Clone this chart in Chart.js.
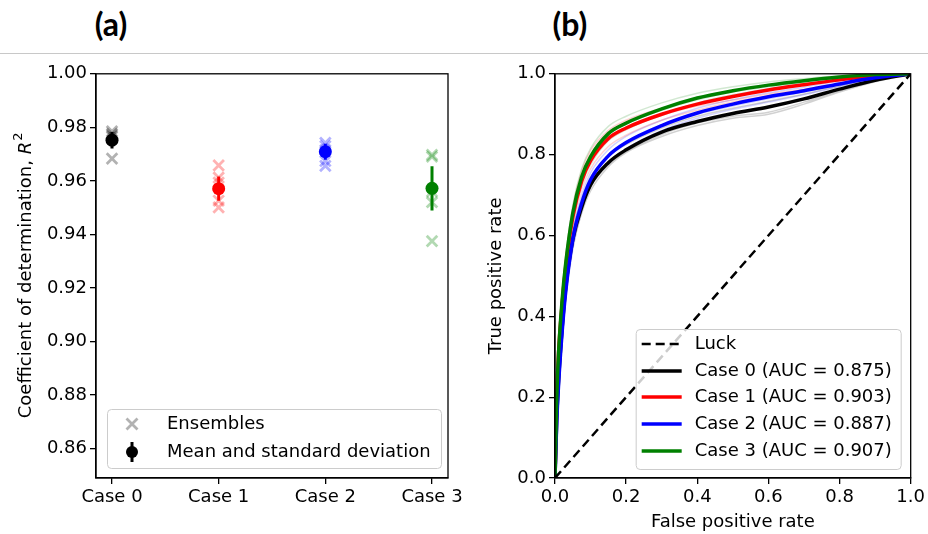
<!DOCTYPE html>
<html>
<head>
<meta charset="utf-8">
<script src="https://cdn.jsdelivr.net/npm/chart.js@4.4.1/dist/chart.umd.min.js"></script>
<style>
  body { margin: 0; background: #fff; width: 928px; height: 534px; position: relative; overflow: hidden; }
  .panel-title { position: absolute; top: 4px; width: 80px; text-align: center; font-family: Lato, sans-serif; font-weight: 700; font-size: 32px; line-height: 40px; color: #000; }
  #rule { position: absolute; left: 0; top: 53px; width: 928px; height: 1px; background: #c8c8c8; }
  #wrapA { position: absolute; left: 0; top: 60px; }
  #wrapB { position: absolute; left: 460px; top: 60px; }
</style>
</head>
<body>
<div class="panel-title" style="left:71px">(a)</div>
<div class="panel-title" style="left:530px">(b)</div>
<div id="rule"></div>
<div id="wrapA"><canvas id="chartA" width="480" height="474"></canvas></div>
<div id="wrapB"><canvas id="chartB" width="468" height="474"></canvas></div>
<script>
// panel (a): R^2 of each ensemble member, and mean / std per case
const caseLabels = ['Case 0', 'Case 1', 'Case 2', 'Case 3'];
const caseColors = ['#000000', '#ff0000', '#0000ff', '#008000'];
const caseFaded = ['rgba(0,0,0,0.3)', 'rgba(255,0,0,0.3)', 'rgba(0,0,255,0.3)', 'rgba(0,128,0,0.3)'];
const caseThin = ['rgba(0,0,0,0.18)', 'rgba(255,0,0,0.18)', 'rgba(0,0,255,0.18)', 'rgba(0,128,0,0.18)'];

const r2Ensembles = [
  [0.9785, 0.9776, 0.9770, 0.9765, 0.9683],
  [0.9658, 0.9612, 0.9594, 0.9526, 0.9501],
  [0.9742, 0.9730, 0.9715, 0.9674, 0.9656],
  [0.9697, 0.9690, 0.9560, 0.9520, 0.9375]
];
const r2Mean = [0.9752, 0.9571, 0.9709, 0.9572];
const r2Std = [0.0031, 0.0045, 0.0030, 0.0083];
const r2Ticks = [0.86, 0.88, 0.90, 0.92, 0.94, 0.96, 0.98, 1.00];

// panel (b): ROC curves
const fpr = [0, 0.005, 0.01, 0.02, 0.03, 0.05, 0.075, 0.1, 0.15, 0.2, 0.3, 0.4, 0.5, 0.6, 0.7, 0.8, 0.9, 1.0];
const tprCase0 = [0, 0.15, 0.24, 0.37, 0.47, 0.59, 0.67, 0.725, 0.78, 0.812, 0.856, 0.882, 0.902, 0.918, 0.938, 0.962, 0.984, 1];
const tprCase1 = [0, 0.2, 0.31, 0.43, 0.52, 0.645, 0.735, 0.785, 0.84, 0.866, 0.9, 0.925, 0.944, 0.96, 0.973, 0.985, 0.995, 1];
const tprCase2 = [0, 0.14, 0.23, 0.36, 0.46, 0.59, 0.68, 0.738, 0.797, 0.83, 0.872, 0.903, 0.925, 0.943, 0.958, 0.975, 0.99, 1];
const tprCase3 = [0, 0.2, 0.31, 0.44, 0.53, 0.655, 0.745, 0.795, 0.852, 0.878, 0.913, 0.94, 0.958, 0.972, 0.983, 0.992, 0.998, 1];
const tprMean = [tprCase0, tprCase1, tprCase2, tprCase3];

const tprEnsCase0 = [
  [0, 0.13, 0.22, 0.35, 0.45, 0.57, 0.655, 0.71, 0.77, 0.805, 0.845, 0.872, 0.89, 0.9, 0.925, 0.955, 0.98, 1],
  [0, 0.17, 0.26, 0.39, 0.49, 0.61, 0.69, 0.745, 0.795, 0.825, 0.866, 0.895, 0.915, 0.932, 0.95, 0.97, 0.988, 1],
  [0, 0.15, 0.24, 0.36, 0.46, 0.58, 0.665, 0.72, 0.775, 0.808, 0.85, 0.878, 0.895, 0.905, 0.93, 0.958, 0.982, 1]
];
const tprEnsCase1 = [
  [0, 0.22, 0.33, 0.45, 0.55, 0.67, 0.76, 0.81, 0.86, 0.885, 0.915, 0.94, 0.958, 0.972, 0.982, 0.99, 0.997, 1],
  [0, 0.18, 0.29, 0.41, 0.5, 0.625, 0.715, 0.765, 0.82, 0.848, 0.885, 0.91, 0.93, 0.945, 0.96, 0.975, 0.99, 1],
  [0, 0.2, 0.3, 0.42, 0.51, 0.64, 0.73, 0.78, 0.835, 0.862, 0.897, 0.92, 0.935, 0.95, 0.962, 0.978, 0.992, 1]
];
const tprEnsCase2 = [
  [0, 0.12, 0.21, 0.34, 0.44, 0.565, 0.66, 0.72, 0.78, 0.815, 0.86, 0.89, 0.912, 0.93, 0.948, 0.968, 0.986, 1],
  [0, 0.16, 0.25, 0.38, 0.48, 0.61, 0.7, 0.755, 0.812, 0.845, 0.885, 0.915, 0.936, 0.953, 0.967, 0.982, 0.994, 1],
  [0, 0.14, 0.23, 0.36, 0.46, 0.585, 0.675, 0.735, 0.795, 0.828, 0.87, 0.9, 0.92, 0.938, 0.955, 0.972, 0.99, 1]
];
const tprEnsCase3 = [
  [0, 0.22, 0.33, 0.46, 0.55, 0.675, 0.765, 0.815, 0.87, 0.895, 0.928, 0.952, 0.968, 0.98, 0.988, 0.995, 0.999, 1],
  [0, 0.18, 0.29, 0.42, 0.51, 0.635, 0.725, 0.775, 0.835, 0.862, 0.9, 0.928, 0.948, 0.963, 0.976, 0.988, 0.996, 1],
  [0, 0.2, 0.31, 0.44, 0.53, 0.655, 0.745, 0.795, 0.85, 0.876, 0.91, 0.936, 0.955, 0.968, 0.98, 0.99, 0.997, 1]
];
const tprEnsembles = [tprEnsCase0, tprEnsCase1, tprEnsCase2, tprEnsCase3];
const aucValues = [0.875, 0.903, 0.887, 0.907];
const rateTicks = [0, 0.2, 0.4, 0.6, 0.8, 1.0];

Chart.defaults.font.family = '"DejaVu Sans"';
Chart.defaults.font.size = 18;
Chart.defaults.color = '#000';

const FONT = '18px "DejaVu Sans"';

function axisStyle(extra) {
  return Object.assign({
    type: 'linear',
    grid: { display: true, drawOnChartArea: false, drawTicks: true, tickLength: 6, color: '#000', lineWidth: 1.3 },
    border: { display: true, color: '#000', width: 1.3 },
  }, extra);
}

const framePlugin = {
  id: 'frame',
  afterDatasetsDraw(chart) {
    const { ctx, chartArea: a } = chart;
    ctx.save();
    ctx.strokeStyle = '#000';
    ctx.lineWidth = 1.3;
    ctx.strokeRect(a.left, a.top, a.right - a.left, a.bottom - a.top);
    ctx.restore();
  }
};

function legendBox(ctx, x, y, w, h) {
  ctx.save();
  ctx.fillStyle = 'rgba(255,255,255,0.8)';
  ctx.strokeStyle = '#cccccc';
  ctx.lineWidth = 1;
  ctx.beginPath();
  ctx.roundRect(x + 0.5, y + 0.5, w, h, 4);
  ctx.fill();
  ctx.stroke();
  ctx.restore();
}

// y title with italic R and superscript 2
const r2TitlePlugin = {
  id: 'r2Title',
  afterDraw(chart) {
    const { ctx, chartArea: a } = chart;
    const main = 'Coefficient of determination, ';
    ctx.save();
    ctx.translate(26, (a.top + a.bottom) / 2);
    ctx.rotate(-Math.PI / 2);
    ctx.fillStyle = '#000';
    ctx.textBaseline = 'middle';
    ctx.font = FONT;
    const w1 = ctx.measureText(main).width;
    ctx.font = 'italic ' + FONT;
    const w2 = ctx.measureText('R').width;
    ctx.font = '13px "DejaVu Sans"';
    const w3 = ctx.measureText('2').width;
    let x = -(w1 + w2 + w3) / 2;
    ctx.font = FONT; ctx.fillText(main, x, 0); x += w1;
    ctx.font = 'italic ' + FONT; ctx.fillText('R', x, 0); x += w2 + 1;
    ctx.font = '13px "DejaVu Sans"'; ctx.fillText('2', x, -7);
    ctx.restore();
  }
};

const legendAPlugin = {
  id: 'legendA',
  afterDraw(chart) {
    const { ctx, chartArea: a } = chart;
    const w = 334, h = 59;
    const left = a.right - 7 - w, top = a.bottom - 10 - h;
    legendBox(ctx, left, top, w, h);
    ctx.save();
    const mx = left + 25, r1 = top + 15, r2 = top + 43;
    // crosses marker
    ctx.strokeStyle = 'rgba(0,0,0,0.3)';
    ctx.lineWidth = 2.8;
    ctx.beginPath();
    ctx.moveTo(mx - 5.5, r1 - 5.5); ctx.lineTo(mx + 5.5, r1 + 5.5);
    ctx.moveTo(mx + 5.5, r1 - 5.5); ctx.lineTo(mx - 5.5, r1 + 5.5);
    ctx.stroke();
    // dot with error bar
    ctx.strokeStyle = '#000';
    ctx.lineWidth = 3;
    ctx.beginPath(); ctx.moveTo(mx, r2 - 10); ctx.lineTo(mx, r2 + 10); ctx.stroke();
    ctx.fillStyle = '#000';
    ctx.beginPath(); ctx.arc(mx, r2, 6, 0, Math.PI * 2); ctx.fill();
    ctx.font = FONT;
    ctx.textBaseline = 'middle';
    ctx.fillText('Ensembles', left + 60, r1);
    ctx.fillText('Mean and standard deviation', left + 60, r2);
    ctx.restore();
  }
};

const legendBPlugin = {
  id: 'legendB',
  afterDraw(chart) {
    const { ctx, chartArea: a } = chart;
    const w = 265, h = 140;
    const left = a.right - 10 - w, top = a.bottom - 9 - h;
    legendBox(ctx, left, top, w, h);
    const rows = [15, 42, 68, 95, 122];
    const labels = ['Luck'].concat(caseLabels.map((c, i) => c + ' (AUC = ' + aucValues[i].toFixed(3) + ')'));
    ctx.save();
    ctx.font = FONT;
    ctx.textBaseline = 'middle';
    rows.forEach((dy, i) => {
      const y = top + dy;
      ctx.beginPath();
      ctx.moveTo(left + 6, y); ctx.lineTo(left + 46, y);
      if (i === 0) { ctx.setLineDash([9, 5]); ctx.lineWidth = 2.5; ctx.strokeStyle = '#000'; }
      else { ctx.setLineDash([]); ctx.lineWidth = 3.5; ctx.strokeStyle = caseColors[i - 1]; }
      ctx.stroke();
      ctx.fillStyle = '#000';
      ctx.fillText(labels[i], left + 59, y);
    });
    ctx.restore();
  }
};

// ---- panel (a)
const dsA = [];
caseLabels.forEach((c, i) => {
  dsA.push({
    type: 'scatter', order: 1,
    data: [{ x: i, y: r2Mean[i] }],
    pointStyle: 'circle', pointRadius: 6.5, backgroundColor: caseColors[i], borderColor: caseColors[i], borderWidth: 0
  });
  dsA.push({
    type: 'line', order: 2,
    data: [{ x: i, y: r2Mean[i] - r2Std[i] }, { x: i, y: r2Mean[i] + r2Std[i] }],
    borderColor: caseColors[i], borderWidth: 3, pointRadius: 0
  });
  dsA.push({
    type: 'scatter', order: 3,
    data: r2Ensembles[i].map(v => ({ x: i, y: v })),
    pointStyle: 'crossRot', pointRadius: 7.5, borderColor: caseFaded[i], borderWidth: 2.8, backgroundColor: caseFaded[i]
  });
});

new Chart(document.getElementById('chartA'), {
  type: 'scatter',
  data: { datasets: dsA },
  options: {
    responsive: false, animation: false, devicePixelRatio: 1,
    layout: { padding: { top: 12, right: 32, left: 0, bottom: 0 } },
    plugins: { legend: { display: false }, tooltip: { enabled: false } },
    scales: {
      x: axisStyle({
        min: -0.15, max: 3.15,
        afterBuildTicks: s => { s.ticks = caseLabels.map((c, i) => ({ value: i })); },
        afterFit: s => { s.height = 56; },
        ticks: { callback: v => caseLabels[v], padding: 3, maxRotation: 0, autoSkip: false }
      }),
      y: axisStyle({
        min: 0.849, max: 1.0,
        afterBuildTicks: s => { s.ticks = r2Ticks.map(v => ({ value: v })); },
        afterFit: s => { s.width = 96; },
        ticks: { callback: v => v.toFixed(2), padding: 3, autoSkip: false }
      })
    }
  },
  plugins: [framePlugin, r2TitlePlugin, legendAPlugin]
});

// ---- panel (b)
const dsB = [];
dsB.push({
  order: 0,
  data: [{ x: 0, y: 0 }, { x: 1, y: 1 }],
  borderColor: '#000', borderWidth: 2.5, borderDash: [9, 5], pointRadius: 0
});
const meanOrder = [4, 3, 2, 1];
caseLabels.forEach((c, i) => {
  dsB.push({
    order: meanOrder[i],
    data: fpr.map((x, k) => ({ x: x, y: tprMean[i][k] })),
    borderColor: caseColors[i], borderWidth: 3.5, pointRadius: 0, cubicInterpolationMode: 'monotone'
  });
  tprEnsembles[i].forEach(curve => {
    dsB.push({
      order: 10,
      data: fpr.map((x, k) => ({ x: x, y: curve[k] })),
      borderColor: caseThin[i], borderWidth: 1.5, pointRadius: 0, cubicInterpolationMode: 'monotone'
    });
  });
});

new Chart(document.getElementById('chartB'), {
  type: 'line',
  data: { datasets: dsB },
  options: {
    responsive: false, animation: false, devicePixelRatio: 1,
    layout: { padding: { top: 12, right: 17, left: 0, bottom: 0 } },
    plugins: { legend: { display: false }, tooltip: { enabled: false } },
    scales: {
      x: axisStyle({
        min: 0, max: 1,
        afterBuildTicks: s => { s.ticks = rateTicks.map(v => ({ value: v })); },
        afterFit: s => { s.height = 56; },
        ticks: { callback: v => v.toFixed(1), padding: 3, maxRotation: 0, autoSkip: false },
        title: { display: true, text: 'False positive rate', padding: { top: 0, bottom: 1 } }
      }),
      y: axisStyle({
        min: 0, max: 1,
        afterBuildTicks: s => { s.ticks = rateTicks.map(v => ({ value: v })); },
        afterFit: s => { s.width = 95; },
        ticks: { callback: v => v.toFixed(1), padding: 3, autoSkip: false },
        title: { display: true, text: 'True positive rate', padding: { top: 26, bottom: 0 } }
      })
    }
  },
  plugins: [framePlugin, legendBPlugin]
});
</script>
</body>
</html>
